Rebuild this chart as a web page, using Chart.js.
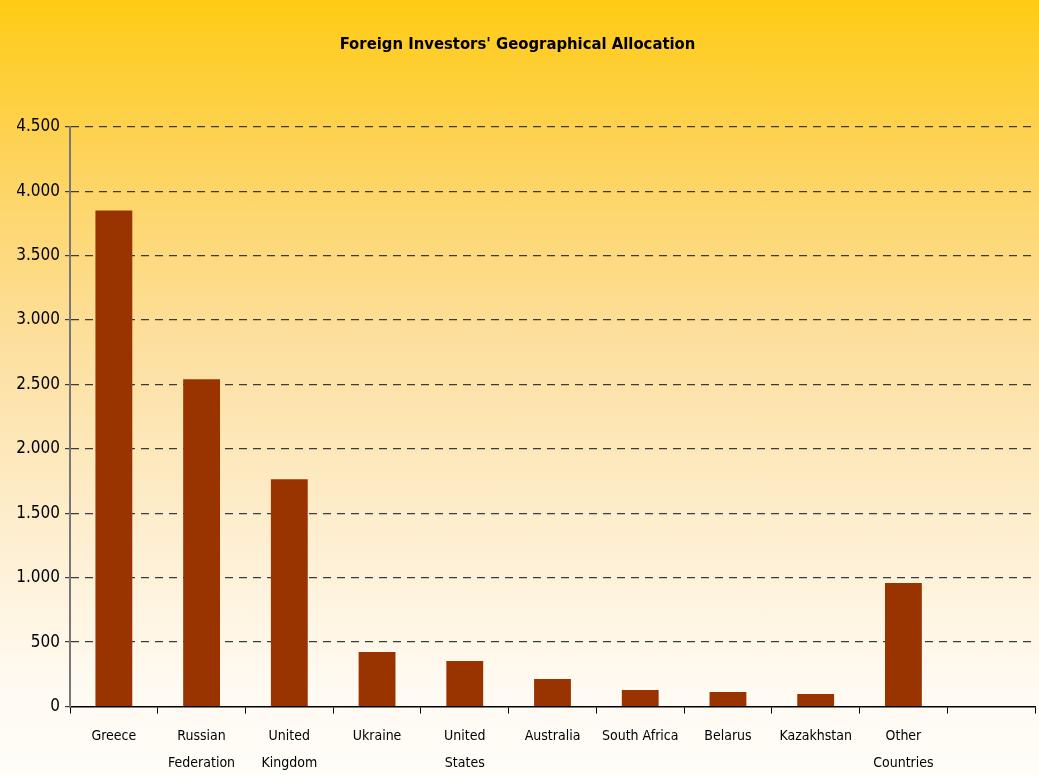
<!DOCTYPE html>
<html>
<head>
<meta charset="utf-8">
<script src="https://cdn.jsdelivr.net/npm/chart.js@4"></script>
<style>
  html, body { margin: 0; padding: 0; }
  body {
    width: 1039px; height: 775px; overflow: hidden;
    background: linear-gradient(to bottom, #ffcb14 0%, #fdd35a 20%, #fde0a0 45%, #feefd2 70%, #fffaf1 88%, #fffdf8 100%);
  }
  #wrap { position: relative; width: 1039px; height: 775px; }
</style>
</head>
<body>
<div id="wrap"><canvas id="barChart"></canvas></div>
<script>
const countries = [
  'Greece', ['Russian', 'Federation'], ['United', 'Kingdom'], 'Ukraine', ['United', 'States'],
  'Australia', 'South Africa', 'Belarus', 'Kazakhstan', ['Other', 'Countries'], ''
];
const allocation = [3850, 2540, 1765, 423, 353, 213, 128, 112, 97, 958, null];
const yTicks = [0, 500, 1000, 1500, 2000, 2500, 3000, 3500, 4000, 4500];

const narrow = "'DejaVu Sans Condensed', 'Liberation Sans Narrow', 'Arial Narrow', 'Liberation Sans', sans-serif";

new Chart(document.getElementById('barChart'), {
  type: 'bar',
  data: {
    labels: countries,
    datasets: [
      {
        label: 'Allocation',
        data: allocation,
        backgroundColor: '#993300',
        borderWidth: 0,
        categoryPercentage: 1,
        barPercentage: 0.42,
      },
    ],
  },
  options: {
    responsive: true,
    maintainAspectRatio: false,
    animation: false,
    layout: { padding: { left: 0, right: 4, top: 0, bottom: 0 } },
    scales: {
      x: {
        offset: true,
        grid: {
          offset: true,
          drawOnChartArea: false,
          drawTicks: true,
          tickLength: 7,
          color: '#000',
          lineWidth: 1,
        },
        border: { display: true, color: '#000', width: 1.5 },
        ticks: {
          color: '#000',
          font: { family: narrow, size: 14, lineHeight: 1.95 },
          padding: 9,
          maxRotation: 0,
          autoSkip: false,
        },
        afterFit: (scale) => { scale.height = 68.5; },
      },
      y: {
        min: 0,
        max: 4500,
        afterBuildTicks: (scale) => { scale.ticks = yTicks.map((v) => ({ value: v })); },
        grid: {
          drawOnChartArea: true,
          drawTicks: true,
          tickLength: 5,
          color: (ctx) => (ctx.tick && ctx.tick.value === 0 ? 'rgba(0,0,0,0)' : '#3c3c3c'),
          tickColor: '#3c3c3c',
          lineWidth: 1.2,
        },
        border: { display: true, color: '#777777', width: 2, dash: [8, 6] },
        ticks: {
          color: '#000',
          font: { family: narrow, size: 17 },
          padding: 5,
          callback: (v) => v.toLocaleString('de-DE'),
        },
        afterFit: (scale) => { scale.width = 70; },
      },
    },
    plugins: {
      legend: { display: false },
      tooltip: { enabled: false },
      title: {
        display: true,
        text: "Foreign Investors' Geographical Allocation",
        color: '#000',
        font: { family: narrow, size: 16.5, weight: 'bold' },
        padding: { top: 34.5, bottom: 72.5 },
      },
    },
  },
});
</script>
</body>
</html>
